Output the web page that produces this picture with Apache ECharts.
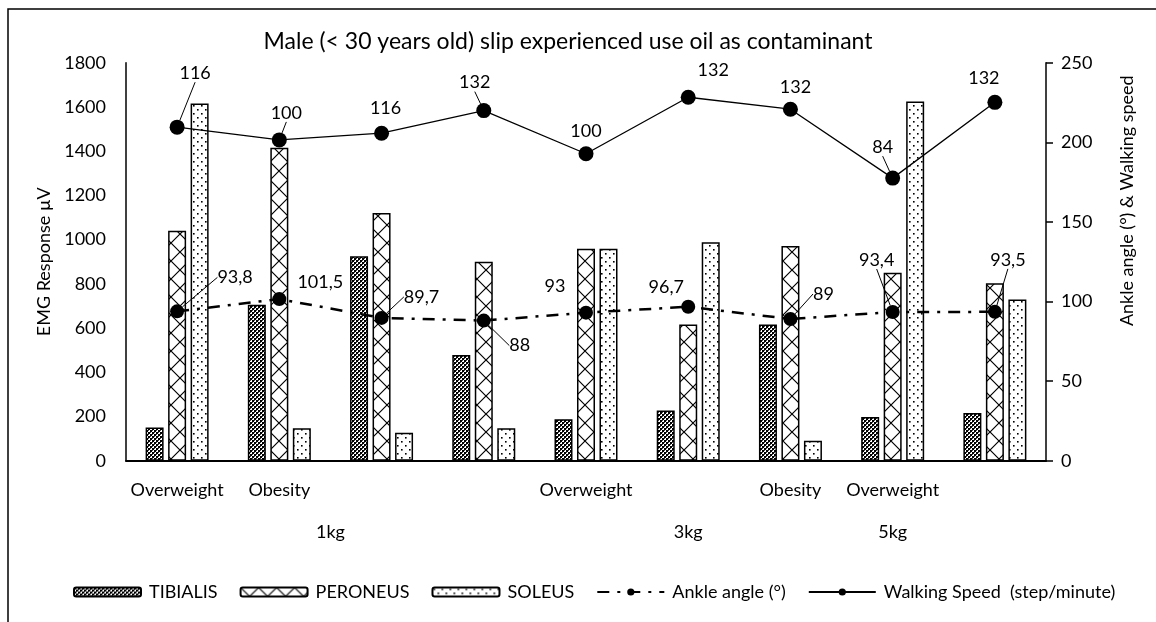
<!DOCTYPE html>
<html>
<head>
<meta charset="utf-8">
<script src="https://cdn.jsdelivr.net/npm/echarts@6/dist/echarts.min.js"></script>
<style>
    html, body { margin: 0; padding: 0; background: #fff; }
    #chart { width: 1156px; height: 622px; }
</style>
</head>
<body>
<div id="chart"></div>
<script>
// groups along the x axis (9 bar groups)
const groups = ['1', '2', '3', '4', '5', '6', '7', '8', '9']
const bodyLabels = ['Overweight', 'Obesity', '', '', 'Overweight', '', 'Obesity', 'Overweight', '']
// second label row sits on group boundaries (19 slots)
const weightTicks = ['', '', '', '', '1kg', '', '', '', '', '', '', '3kg', '', '', '', '5kg', '', '', '']

const tibialis = [150, 705, 925, 478, 188, 227, 616, 198, 216]
const peroneus = [1040, 1415, 1120, 900, 959, 616, 971, 850, 803]
const soleus = [1615, 147, 126, 147, 959, 988, 90, 1625, 729]

const ankleAngle = [93.8, 101.5, 89.7, 88, 93, 96.7, 89, 93.4, 93.5]
const walkingPos = [209.5, 201.5, 205.7, 219.9, 192.8, 228.3, 220.8, 177.5, 225.1]
const walkingLabels = ['116', '100', '116', '132', '100', '132', '132', '84', '132']

// label offsets from the marker centre [dx, dy], and which labels get a leader line
const walkOffsets = [[18, -54], [7, -27], [4, -25], [-9, -28], [0, -23], [25, -27], [5, -22], [-10, -31], [-11, -24]]
const walkLeader = [true, true, false, true, false, false, false, true, false]
const ankleOffsets = [[58, -34], [41, -17], [40, -21], [36, 25], [-31, -26], [-22, -20], [33, -25], [-16, -52], [13, -52]]
const ankleLeader = [true, false, true, true, false, false, true, true, true]

const FONT = 'Lato'

const makePattern = (size, draw) => {
    const c = document.createElement('canvas')
    c.width = size
    c.height = size
    const ctx = c.getContext('2d')
    ctx.fillStyle = '#fff'
    ctx.fillRect(0, 0, size, size)
    draw(ctx)
    return { image: c, repeat: 'repeat' }
}

const tibialisFill = makePattern(4, (ctx) => {
    ctx.fillStyle = '#000'
    ctx.fillRect(0, 0, 2, 2)
    ctx.fillRect(2, 2, 2, 2)
    ctx.fillStyle = '#444'
    ctx.fillRect(2, 0, 1, 1)
    ctx.fillRect(0, 2, 1, 1)
})
const peroneusFill = makePattern(18, (ctx) => {
    ctx.strokeStyle = '#000'
    ctx.lineWidth = 1.2
    ctx.beginPath()
    ctx.moveTo(0, 0)
    ctx.lineTo(18, 18)
    ctx.moveTo(18, 0)
    ctx.lineTo(0, 18)
    ctx.stroke()
})
const soleusFill = makePattern(8, (ctx) => {
    ctx.fillStyle = '#000'
    ctx.fillRect(1, 1, 1.6, 1.6)
    ctx.fillRect(5, 5, 1.6, 1.6)
})

const offsetLayout = (offsets) => (params) => {
    const o = offsets[params.dataIndex]
    const r = params.rect
    return {
        x: r.x + r.width / 2 + o[0],
        y: r.y + r.height / 2 + o[1],
        align: 'center',
        verticalAlign: 'middle',
    }
}

const withLeaders = (values, leaders) =>
    values.map((v, i) => ({ value: v, labelLine: { show: leaders[i] } }))

const barSeries = (name, data, fill) => ({
    name,
    type: 'bar',
    data,
    barWidth: 18,
    barGap: '25%',
    itemStyle: {
        color: fill,
        borderColor: '#000',
        borderWidth: 1.5,
    },
})

const chart = echarts.init(document.getElementById('chart'))

chart.setOption({
    animation: false,
    textStyle: { fontFamily: FONT, color: '#000' },
    title: {
        text: 'Male (< 30 years old) slip experienced use oil as contaminant',
        left: 563,
        top: 25,
        textAlign: 'center',
        textStyle: { fontFamily: FONT, fontSize: 23, fontWeight: 'normal', color: '#000' },
    },
    graphic: [
        {
            type: 'rect',
            shape: { x: 8, y: 9, width: 1300, height: 800 },
            style: { fill: 'none', stroke: '#000', lineWidth: 1.5 },
            silent: true,
        },
    ],
    legend: {
        left: 68,
        top: 578,
        itemWidth: 67,
        itemHeight: 9,
        itemGap: 22,
        textStyle: { fontFamily: FONT, fontSize: 18, color: '#000', padding: [0, 0, 0, 3] },
        data: ['TIBIALIS', 'PERONEUS', 'SOLEUS', 'Ankle angle (°)', 'Walking Speed  (step/minute)'],
    },
    grid: {
        left: 126,
        right: 110,
        top: 62.7,
        bottom: 161.3,
        containLabel: false,
    },
    xAxis: [
        {
            type: 'category',
            data: groups,
            axisLine: { lineStyle: { color: '#000', width: 2 } },
            axisTick: { show: false },
            axisLabel: {
                interval: 0,
                margin: 20,
                fontSize: 18,
                color: '#000',
                formatter: (v, i) => bodyLabels[i],
            },
        },
        {
            type: 'category',
            data: weightTicks,
            position: 'bottom',
            offset: 42,
            boundaryGap: false,
            axisLine: { show: false },
            axisTick: { show: false },
            axisLabel: { interval: 0, margin: 20, fontSize: 18, color: '#000' },
        },
    ],
    yAxis: [
        {
            type: 'value',
            min: 0,
            max: 1800,
            interval: 200,
            name: 'EMG Response µV',
            nameLocation: 'middle',
            nameGap: 72,
            nameRotate: 90,
            nameTextStyle: { fontFamily: FONT, fontSize: 18, color: '#000' },
            axisLine: { show: true, lineStyle: { color: '#000', width: 1.5 } },
            axisTick: { show: false },
            splitLine: { show: false },
            axisLabel: { fontSize: 18, color: '#000', margin: 20, formatter: (v) => String(v) },
        },
        {
            type: 'value',
            min: 0,
            max: 250,
            interval: 50,
            position: 'right',
            name: 'Ankle angle (°) & Walking speed',
            nameLocation: 'middle',
            nameGap: 72,
            nameRotate: 90,
            nameTextStyle: { fontFamily: FONT, fontSize: 18, color: '#000', padding: [0, 0, 0, 122] },
            axisLine: { show: true, lineStyle: { color: '#000', width: 1.5 } },
            axisTick: { show: true, length: 7, lineStyle: { color: '#000', width: 1.5 } },
            splitLine: { show: false },
            axisLabel: { fontSize: 18, color: '#000', margin: 15 },
        },
    ],
    series: [
        barSeries('TIBIALIS', tibialis, tibialisFill),
        barSeries('PERONEUS', peroneus, peroneusFill),
        barSeries('SOLEUS', soleus, soleusFill),
        {
            name: 'Ankle angle (°)',
            type: 'line',
            yAxisIndex: 1,
            data: withLeaders(ankleAngle, ankleLeader),
            symbol: 'circle',
            symbolSize: 14,
            itemStyle: { color: '#000' },
            lineStyle: { color: '#000', width: 2.5, type: [12, 8, 3, 8] },
            label: {
                show: true,
                fontSize: 18,
                color: '#000',
                formatter: (p) => String(p.value).replace('.', ','),
            },
            labelLine: { show: true, lineStyle: { color: '#000', width: 1 } },
            labelLayout: offsetLayout(ankleOffsets),
            z: 5,
        },
        {
            name: 'Walking Speed  (step/minute)',
            type: 'line',
            yAxisIndex: 1,
            data: withLeaders(walkingPos, walkLeader),
            symbol: 'circle',
            symbolSize: 15,
            itemStyle: { color: '#000' },
            lineStyle: { color: '#000', width: 1.3 },
            label: {
                show: true,
                fontSize: 18,
                color: '#000',
                formatter: (p) => walkingLabels[p.dataIndex],
            },
            labelLine: { show: true, lineStyle: { color: '#000', width: 1 } },
            labelLayout: offsetLayout(walkOffsets),
            z: 5,
        },
    ],
})
</script>
</body>
</html>
